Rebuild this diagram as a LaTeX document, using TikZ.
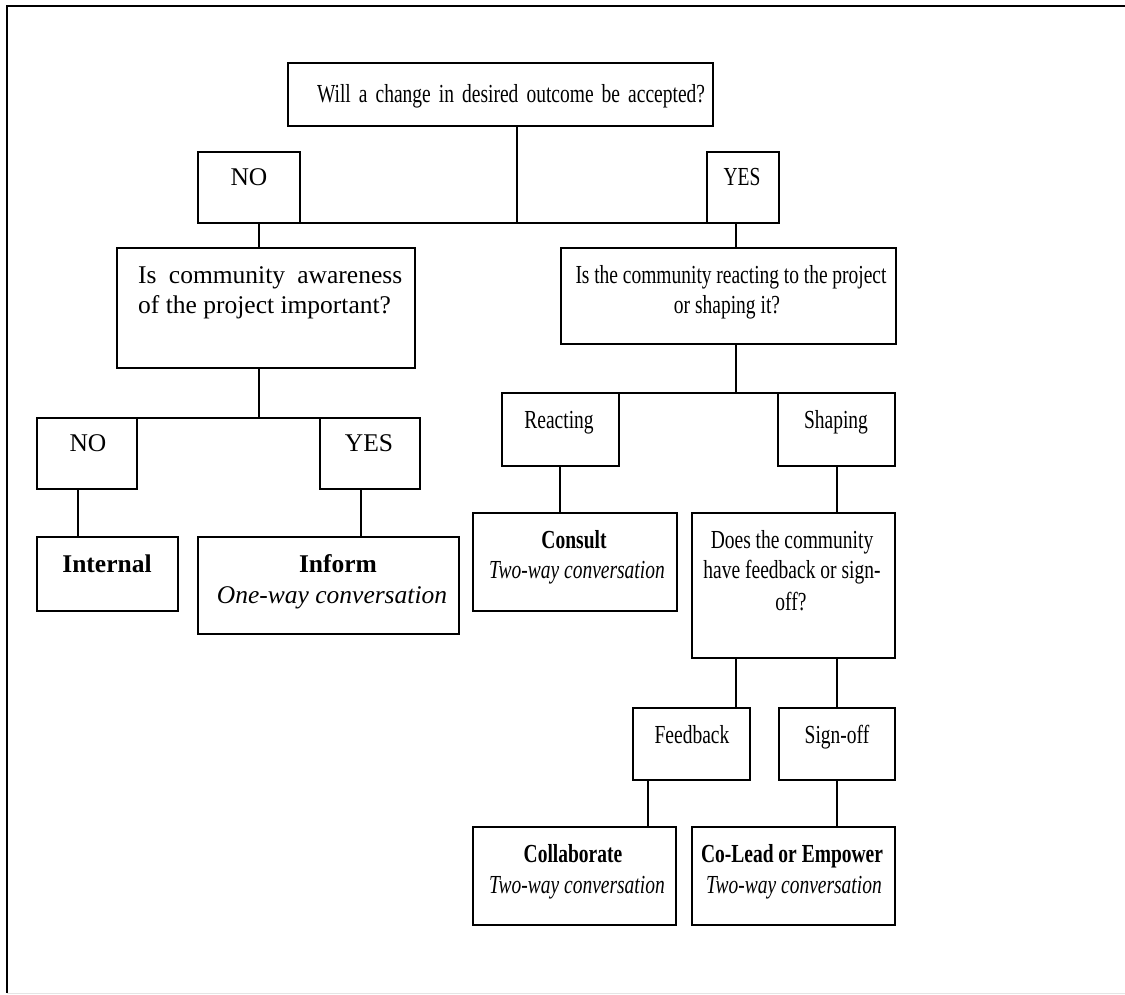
\documentclass[tikz,border=0pt]{standalone}
\usepackage{fontspec}
\setmainfont{Liberation Serif}
\newfontfamily\cond[FakeStretch=0.75]{Liberation Serif}
\tikzset{
  box/.style={draw, line width=1.3pt, anchor=north west, inner sep=0pt, outer sep=0pt},
  conn/.style={line width=1.3pt},
  lt/.style={font=\fontsize{25.5}{31}\selectfont, inner sep=0pt, anchor=base},
  rt/.style={font=\cond\fontsize{26}{31}\selectfont, inner sep=0pt, anchor=base},
}
\newcommand{\bx}[5]{\node[box, minimum width=#4pt-#2pt, minimum height=#5pt-#3pt] (#1) at (#2,#3) {};}
\begin{document}
\begin{tikzpicture}[x=1pt,y=-1pt]
\useasboundingbox (0,0) rectangle (1125,994);
% frame
\draw[line width=2pt] (1126,6) -- (7,6) -- (7,993);
\draw[black!10, line width=1pt] (7,993) -- (1126,993);
% boxes
\bx{top}{288}{63}{713}{126}
\bx{no1}{198}{152}{300}{223}
\bx{yes1}{707}{152}{779}{223}
\bx{q2}{117}{248}{415}{368}
\bx{q3}{561}{248}{896}{344}
\bx{no2}{37}{418}{137}{489}
\bx{yes2}{320}{418}{420}{489}
\bx{internal}{37}{537}{178}{611}
\bx{inform}{198}{537}{459}{634}
\bx{react}{502}{393}{619}{466}
\bx{shape}{778}{393}{895}{466}
\bx{consult}{473}{513}{677}{611}
\bx{q4}{692}{513}{895}{658}
\bx{feedback}{633}{708}{750}{780}
\bx{signoff}{779}{708}{895}{780}
\bx{collab}{473}{827}{676}{925}
\bx{colead}{692}{827}{895}{925}
% texts
\node[rt] (ttop) at (511,102) {\makebox[388pt][s]{Will a change in desired outcome be accepted?}};
\node[lt] (tno1) at (249,185) {NO};
\node[rt] (tyes1) at (742,185) {YES};
\node[lt, anchor=base west] (tq2a) at (138,283) {\makebox[264pt][s]{Is community awareness}};
\node[lt, anchor=base west] (tq2b) at (138,313) {of the project important?};
\node[rt] (tq3a) at (731,283) {\makebox[311pt][s]{Is the community reacting to the project}};
\node[rt] (tq3b) at (727,313) {or shaping it?};
\node[lt] (tno2) at (88,451) {NO};
\node[lt] (tyes2) at (369,451) {YES};
\node[lt] (tint) at (107,572) {\bfseries Internal};
\node[lt] (tinfa) at (338,572) {\bfseries Inform};
\node[lt] (tinfb) at (332,603) {\itshape One-way conversation};
\node[rt] (treact) at (559,428) {Reacting};
\node[rt] (tshape) at (836,428) {Shaping};
\node[rt] (tcona) at (574,548) {\bfseries Consult};
\node[rt] (tconb) at (577,578) {\itshape Two-way conversation};
\node[rt] (tq4a) at (792,548) {Does the community};
\node[rt] (tq4b) at (792,578) {have feedback or sign-};
\node[rt] (tq4c) at (791,610) {off?};
\node[rt] (tfeed) at (692,743) {Feedback};
\node[rt] (tsign) at (837,743) {Sign-off};
\node[rt] (tcola) at (573,862) {\bfseries Collaborate};
\node[rt] (tcolb) at (577,893) {\itshape Two-way conversation};
\node[rt] (tcoa) at (792,862) {\bfseries Co-Lead or Empower};
\node[rt] (tcob) at (794,893) {\itshape Two-way conversation};
% connector x positions
\coordinate (xa) at (517,0);
\coordinate (xb) at (259,0);
\coordinate (xc) at (736,0);
\coordinate (xd) at (560,0);
\coordinate (xe) at (837,0);
\coordinate (xf) at (648,0);
\coordinate (xg) at (78,0);
\coordinate (xh) at (361,0);
% connectors
\draw[conn] (no1.south east) -- (yes1.south west);
\draw[conn] (top.south -| xa) -- (no1.south -| xa);
\draw[conn] (no1.south -| xb) -- (q2.north -| xb);
\draw[conn] (yes1.south -| xc) -- (q3.north -| xc);
\draw[conn] (q3.south -| xc) -- (react.north -| xc);
\draw[conn] (react.north east) -- (shape.north west);
\draw[conn] (react.south -| xd) -- (consult.north -| xd);
\draw[conn] (shape.south -| xe) -- (q4.north -| xe);
\draw[conn] (q4.south -| xc) -- (feedback.north -| xc);
\draw[conn] (q4.south -| xe) -- (signoff.north -| xe);
\draw[conn] (feedback.south -| xf) -- (collab.north -| xf);
\draw[conn] (signoff.south -| xe) -- (colead.north -| xe);
\draw[conn] (q2.south -| xb) -- (no2.north -| xb);
\draw[conn] (no2.north east) -- (yes2.north west);
\draw[conn] (no2.south -| xg) -- (internal.north -| xg);
\draw[conn] (yes2.south -| xh) -- (inform.north -| xh);
\end{tikzpicture}
\end{document}
